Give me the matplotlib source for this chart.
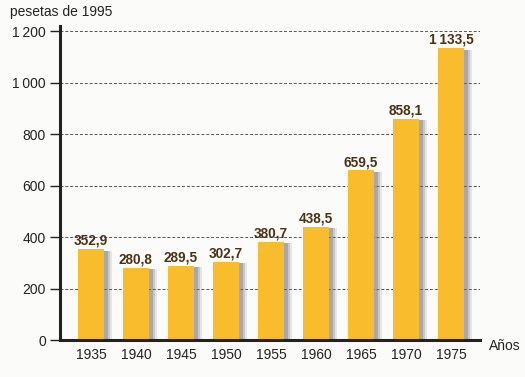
import matplotlib.pyplot as plt
import numpy as np

years = ["1935", "1940", "1945", "1950", "1955", "1960", "1965", "1970", "1975"]
values = [352.9, 280.8, 289.5, 302.7, 380.7, 438.5, 659.5, 858.1, 1133.5]
labels = ["352,9", "280,8", "289,5", "302,7", "380,7", "438,5", "659,5", "858,1", "1\u2009133,5"]
yticks = [0, 200, 400, 600, 800, 1000, 1200]
ytick_labels = ["0", "200", "400", "600", "800", "1\u2009000", "1\u2009200"]

plt.rcParams['font.family'] = ['Liberation Sans', 'DejaVu Sans']

fig = plt.figure(figsize=(5.25, 3.77), dpi=100)
fig.patch.set_facecolor('#fbfbfa')
ax = fig.add_axes([0.114, 0.098, 0.80, 0.833])
ax.set_facecolor('none')

x = np.arange(len(years))
w = 0.58
# shadows
for off, a in [(0.18, 0.15), (0.13, 0.25), (0.08, 0.35)]:
    ax.bar(x + off, np.array(values) - 5, width=w, color='#6f6f6f', alpha=a, zorder=2, linewidth=0)
ax.bar(x, values, width=w, color='#f8bc2c', zorder=3, linewidth=0)

for xi, v, lab in zip(x, values, labels):
    ax.text(xi, v + 5, lab, ha='center', va='bottom', fontsize=9.8, fontweight='bold',
            color='#4a3215', zorder=5)

ax.set_xlim(-0.69, 8.64)
ax.set_ylim(0, 1220)
ax.set_yticks(yticks)
ax.set_yticklabels(ytick_labels, fontsize=10)
ax.set_xticks(x)
ax.set_xticklabels(years, fontsize=10)
ax.tick_params(axis='x', length=0, pad=6, colors='#222222')
ax.tick_params(axis='y', length=7, width=1, pad=3, colors='#222222', direction='out')

for t in yticks[1:]:
    ax.axhline(t, color='#555555', linestyle=(0, (3, 2)), linewidth=0.7, zorder=1)

for s in ['top', 'right']:
    ax.spines[s].set_visible(False)
ax.spines['left'].set_linewidth(2.2)
ax.spines['bottom'].set_linewidth(2.2)
ax.spines['left'].set_color('#222222')
ax.spines['bottom'].set_color('#222222')
ax.spines['left'].set_zorder(6)
ax.spines['bottom'].set_zorder(6)

fig.text(10 / 525, 1 - 12 / 377, "pesetas de 1995", fontsize=10, ha='left', va='center', color='#222222')
fig.text(489 / 525, 1 - 346 / 377, "Años", fontsize=10, ha='left', va='center', color='#222222')

fig.savefig('out.png', dpi=100, facecolor=fig.get_facecolor())
